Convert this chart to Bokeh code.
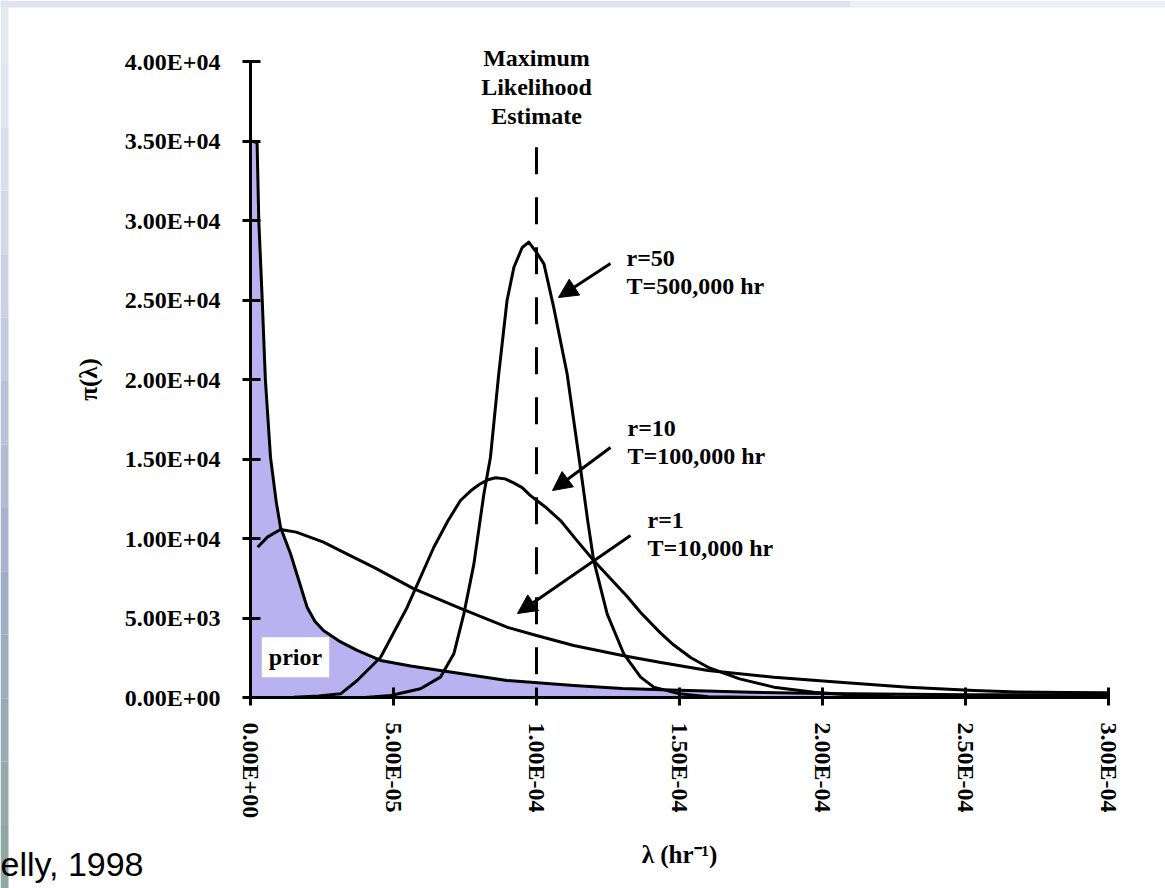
from bokeh.plotting import figure
from bokeh.models import Range1d, FixedTicker, Label, Arrow, NormalHead, BoxAnnotation
from bokeh.embed import file_html
from bokeh.resources import INLINE

# ---------------- data (lambda in hr^-1, density pi(lambda)) ----------------
prior_x = [0.0, 0.23e-5, 0.29e-5, 0.41e-5, 0.52e-5, 0.70e-5, 0.90e-5, 1.05e-5, 1.40e-5, 1.69e-5,
           1.98e-5, 2.25e-5, 2.55e-5, 3.1e-5, 3.73e-5, 4.55e-5, 5.6e-5, 6.64e-5, 8.97e-5, 11.3e-5,
           13.0e-5, 15.0e-5, 17.5e-5, 20.0e-5, 25.0e-5, 30.0e-5]
prior_y = [35000, 34900, 30000, 25000, 20000, 15100, 12300, 10700, 9040, 7360,
           5680, 4800, 4210, 3550, 2960, 2330, 1980, 1700, 1070, 755,
           560, 450, 330, 250, 180, 150]

r1_x = [0.25e-5, 0.6e-5, 1.05e-5, 1.6e-5, 2.55e-5, 3.4e-5, 4.3e-5, 5.7e-5, 7.34e-5, 8.97e-5,
        10.0e-5, 11.3e-5, 13.0e-5, 14.3e-5, 16.0e-5, 18.3e-5, 20.6e-5, 23.0e-5, 25.3e-5,
        26.8e-5, 28.5e-5, 30.0e-5]
r1_y = [9450, 10100, 10570, 10400, 9770, 9000, 8200, 6850, 5600, 4420,
        3900, 3270, 2640, 2220, 1700, 1280, 960, 650, 440,
        350, 310, 300]

r10_x = [0.5e-5, 1.5e-5, 2.4e-5, 3.15e-5, 3.73e-5, 4.55e-5, 5.48e-5, 6.41e-5, 6.9e-5, 7.34e-5,
         7.7e-5, 8.0e-5, 8.3e-5, 8.57e-5, 8.9e-5, 9.2e-5, 9.5e-5, 9.79e-5, 10.3e-5, 10.84e-5,
         11.4e-5, 12.0e-5, 12.6e-5, 13.17e-5, 13.64e-5, 14.34e-5, 14.8e-5, 15.4e-5,
         16.0e-5, 17.1e-5, 18.3e-5, 19.7e-5, 21.0e-5, 22.5e-5, 25.0e-5, 30.0e-5]
r10_y = [0, 20, 100, 230, 1070, 2530, 5680, 9450, 11100, 12390,
         13000, 13400, 13700, 13820, 13750, 13500, 13200, 12700, 12000, 11130,
         9900, 8620, 7450, 6350, 5350, 4050, 3300, 2500,
         1900, 1170, 650, 330, 150, 50, 10, 0]

r50_x = [4.0e-5, 4.9e-5, 5.94e-5, 6.64e-5, 7.11e-5, 7.46e-5, 7.81e-5, 8.16e-5, 8.39e-5, 8.68e-5,
         8.97e-5, 9.21e-5, 9.5e-5, 9.73e-5, 10.0e-5, 10.26e-5, 10.6e-5, 11.07e-5, 11.54e-5,
         11.8e-5, 12.0e-5, 12.47e-5, 13.05e-5, 13.64e-5, 14.1e-5, 15.0e-5, 16.0e-5, 18.0e-5, 30.0e-5]
r50_y = [0, 130, 550, 1280, 2750, 5260, 8390, 12800, 15110, 20360,
         24970, 27060, 28300, 28640, 28000, 27270, 24550, 20360, 14400,
         11000, 8620, 5260, 2750, 1280, 650, 230, 50, 0, 0]

mle_x = 1.0e-4  # maximum likelihood estimate r/T

x_ticks = [0.0, 5e-5, 1e-4, 1.5e-4, 2e-4, 2.5e-4, 3e-4]
x_tick_labels = ["0.00E+00", "5.00E-05", "1.00E-04", "1.50E-04", "2.00E-04", "2.50E-04", "3.00E-04"]
y_ticks = [0, 5000, 10000, 15000, 20000, 25000, 30000, 35000, 40000]
y_tick_labels = ["0.00E+00", "5.00E+03", "1.00E+04", "1.50E+04", "2.00E+04",
                 "2.50E+04", "3.00E+04", "3.50E+04", "4.00E+04"]


# page-pixel -> data helpers (only used to place annotations / decorations)
def xd(px):
    return (px - 250) / 858 * 3e-4


def yd(py):
    return (697 - py) / 636 * 40000


SERIF = "Liberation Serif"
p = figure(width=1165, height=888, output_backend="svg", toolbar_location=None,
           x_range=Range1d(xd(0), xd(1165)), y_range=Range1d(yd(888), yd(0)),
           min_border_left=0, min_border_right=0, min_border_top=0, min_border_bottom=0)
p.outline_line_color = None
p.grid.visible = False
p.background_fill_color = "white"
p.border_fill_color = "white"

# slide background strips (left edge gradient and top band)
band_cols = ["#e8eaf3", "#e2e5f0", "#dbdfed", "#d3d9ea", "#cbd2e5", "#c2cadf", "#b9c2da",
             "#b0bbd4", "#a8b4ce", "#a1afc6", "#9cadbc", "#97abb2", "#93a9aa", "#8fa8a2"]
n = len(band_cols)
for i, c in enumerate(band_cols):
    p.add_layout(BoxAnnotation(left=xd(0), right=xd(8), top=yd(888 * i / n), bottom=yd(888 * (i + 1) / n),
                               fill_color=c, fill_alpha=1, line_color=None, level="underlay"))
p.add_layout(BoxAnnotation(left=xd(0), right=xd(850), top=yd(0), bottom=yd(7),
                           fill_color="#e2e3f0", fill_alpha=1, line_color=None, level="underlay"))
p.add_layout(BoxAnnotation(left=xd(850), right=xd(1165), top=yd(0), bottom=yd(7),
                           fill_color="#eeeff6", fill_alpha=1, line_color=None, level="underlay"))

# prior (shaded)
p.varea(x=prior_x, y1=[0] * len(prior_x), y2=prior_y, fill_color="#bab2f0", fill_alpha=1)
p.line(prior_x, prior_y, line_color="black", line_width=3, line_join="round")
# posteriors
for xs, ys in ((r1_x, r1_y), (r10_x, r10_y), (r50_x, r50_y)):
    p.line(xs, ys, line_color="black", line_width=3, line_join="round")
# MLE dashed line
p.segment(x0=[mle_x], y0=[34600], x1=[mle_x], y1=[0], line_color="black", line_width=3,
          line_dash="27 23")

# axes, pinned at the data origin
for ax in (p.xaxis[0], p.yaxis[0]):
    ax.fixed_location = 0
    ax.axis_line_width = 3
    ax.axis_line_color = "black"
    ax.major_tick_line_width = 3
    ax.major_tick_line_color = "black"
    ax.major_tick_out = 8
    ax.major_tick_in = 10
    ax.minor_tick_line_color = None
    ax.major_label_text_font = SERIF
    ax.major_label_text_font_size = "24px"
    ax.major_label_text_font_style = "bold"
    ax.major_label_text_color = "black"
    ax.axis_label_text_font = SERIF
    ax.axis_label_text_font_size = "25px"
    ax.axis_label_text_font_style = "bold"
    ax.axis_label_text_color = "black"

p.xaxis.bounds = (0, 3e-4)
p.xaxis.ticker = FixedTicker(ticks=x_ticks)
p.xaxis.major_label_overrides = dict(zip(x_ticks, x_tick_labels))
p.xaxis.major_label_orientation = "vertical"
p.xaxis.major_label_standoff = 17
p.xaxis.axis_label = "λ (hr⁻¹)"
p.xaxis.axis_label_standoff = 20

p.yaxis.bounds = (0, 40000)
p.yaxis.ticker = FixedTicker(ticks=y_ticks)
p.yaxis.major_label_overrides = dict(zip(y_ticks, y_tick_labels))
p.yaxis.major_label_standoff = 22
p.yaxis.axis_label = "π(λ)"
p.yaxis.axis_label_standoff = 20


def lab(x, py, text, align="left", size=24, font=SERIF, style="bold", **kw):
    # py: intended baseline (page pixels); renderer sits a little low, so lift it
    p.add_layout(Label(x=x, y=yd(py - 0.3 * size), text=text, text_align=align,
                       text_baseline="alphabetic", text_font=font, text_font_size=f"{size}px",
                       text_font_style=style, text_color="black", **kw))


# annotation texts
lab(mle_x, 65, "Maximum", align="center")
lab(mle_x, 94, "Likelihood", align="center")
lab(mle_x, 123, "Estimate", align="center")

lab(xd(626), 265, "r=50")
lab(xd(626), 293, "T=500,000 hr")
lab(xd(627), 435, "r=10")
lab(xd(627), 463, "T=100,000 hr")
lab(xd(647), 527, "r=1")
lab(xd(647), 555, "T=10,000 hr")

lab(xd(295), 664, "prior", align="center", background_fill_color="white", padding=7)

lab(xd(0), 874, "elly, 1998", size=34, font="Liberation Sans", style="normal")

# arrows (tail -> head)
for (xs, ys, xe, ye) in [(xd(610), yd(263), xd(558), yd(297)),
                         (xd(610), yd(447), xd(552), yd(490)),
                         (xd(630), yd(535), xd(517), yd(613))]:
    p.add_layout(Arrow(x_start=xs, y_start=ys, x_end=xe, y_end=ye, line_width=3, line_color="black",
                       end=NormalHead(size=19, fill_color="black", line_color="black", line_width=1)))

open("out.html", "w").write(file_html(p, INLINE))
